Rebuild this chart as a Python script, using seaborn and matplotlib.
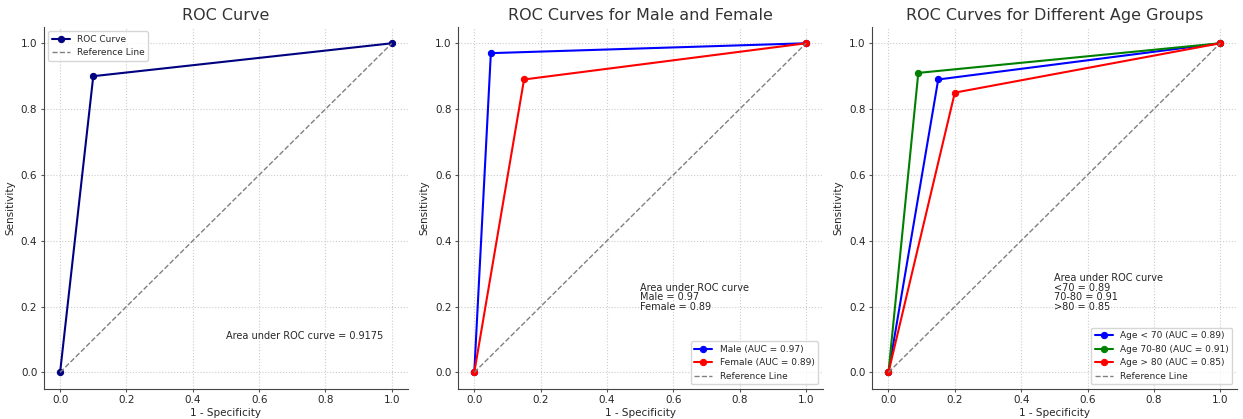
import numpy as np
import matplotlib
matplotlib.use('Agg')
import matplotlib.pyplot as plt
import seaborn as sns

# ROC points
fpr_all = [0.0, 0.1, 1.0]
tpr_all = [0.0, 0.9, 1.0]
auc_all = 0.9175

fpr_male = [0.0, 0.05, 1.0]
tpr_male = [0.0, 0.97, 1.0]
fpr_female = [0.0, 0.15, 1.0]
tpr_female = [0.0, 0.89, 1.0]
sex_labels = ['Male', 'Female']
sex_auc = [0.97, 0.89]

fpr_age = [[0.0, 0.15, 1.0], [0.0, 0.09, 1.0], [0.0, 0.2, 1.0]]
tpr_age = [[0.0, 0.89, 1.0], [0.0, 0.91, 1.0], [0.0, 0.85, 1.0]]
age_labels = ['Age < 70', 'Age 70-80', 'Age > 80']
age_short = ['<70', '70-80', '>80']
age_auc = [0.89, 0.91, 0.85]

sns.set_style("ticks")
plt.rcParams['font.family'] = ['DejaVu Sans']

fig, axes = plt.subplots(1, 3, figsize=(12.43, 4.19), dpi=100)
ref = [0, 1]


def style_axis(ax, title):
    ax.set_title(title, fontsize=11.5, color='#333333', pad=5)
    ax.set_xlabel('1 - Specificity', fontsize=7.5, labelpad=2)
    ax.set_ylabel('Sensitivity', fontsize=7.5, labelpad=4)
    ax.tick_params(labelsize=7.5, length=2.5, pad=2, color='#555555')
    ax.grid(True, linestyle=':', color='#cccccc', linewidth=0.8)
    for s in ['top', 'right']:
        ax.spines[s].set_visible(False)
    for s in ['left', 'bottom']:
        ax.spines[s].set_color('#444444')


# Panel 1
ax = axes[0]
sns.lineplot(x=fpr_all, y=tpr_all, ax=ax, color='navy', marker='o', markersize=4.5,
             markeredgecolor='navy', label='ROC Curve', sort=False)
ax.plot(ref, ref, linestyle='--', color='gray', linewidth=1, label='Reference Line')
ax.text(0.5, 0.1, f'Area under ROC curve = {auc_all}', fontsize=7)
style_axis(ax, 'ROC Curve')
ax.legend(loc='upper left', fontsize=6.5)

# Panel 2
ax = axes[1]
for fx, ty, lab, a, col in zip([fpr_male, fpr_female], [tpr_male, tpr_female],
                               sex_labels, sex_auc, ['blue', 'red']):
    sns.lineplot(x=fx, y=ty, ax=ax, color=col, marker='o', markersize=4.5,
                 markeredgecolor=col, label=f'{lab} (AUC = {a})', sort=False)
ax.plot(ref, ref, linestyle='--', color='gray', linewidth=1, label='Reference Line')
ax.text(0.5, 0.19, 'Area under ROC curve\n' +
        '\n'.join(f'{l} = {a}' for l, a in zip(sex_labels, sex_auc)),
        fontsize=7, linespacing=0.95)
style_axis(ax, 'ROC Curves for Male and Female')
ax.legend(loc='lower right', fontsize=6.5)

# Panel 3
ax = axes[2]
for fx, ty, lab, a, col in zip(fpr_age, tpr_age, age_labels, age_auc,
                               ['blue', 'green', 'red']):
    sns.lineplot(x=fx, y=ty, ax=ax, color=col, marker='o', markersize=4.5,
                 markeredgecolor=col, label=f'{lab} (AUC = {a})', sort=False)
ax.plot(ref, ref, linestyle='--', color='gray', linewidth=1, label='Reference Line')
ax.text(0.5, 0.19, 'Area under ROC curve\n' +
        '\n'.join(f'{l} = {a}' for l, a in zip(age_short, age_auc)),
        fontsize=7, linespacing=0.95)
style_axis(ax, 'ROC Curves for Different Age Groups')
ax.legend(loc='lower right', fontsize=6.5)

plt.subplots_adjust(left=0.035, right=0.995, bottom=0.072, top=0.936, wspace=0.135)
plt.savefig('out.png', dpi=100)
